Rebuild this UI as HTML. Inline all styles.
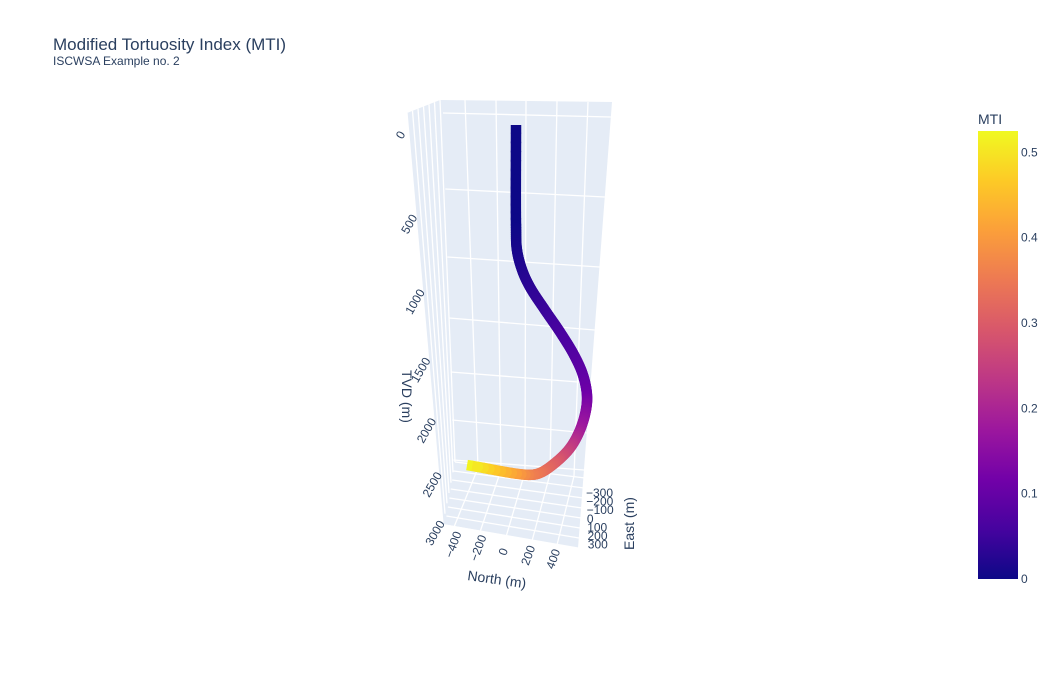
<!DOCTYPE html>
<html><head><meta charset="utf-8"><style>
body{margin:0;background:#fff;font-family:"Liberation Sans",sans-serif}
svg text{font-family:"Liberation Sans",sans-serif;fill:#2a3f5f}
</style></head><body>
<svg id="chart" width="1057" height="669" viewBox="0 0 1057 669" xmlns="http://www.w3.org/2000/svg">
<rect width="1057" height="669" fill="#fff"/>
<text x="53" y="50" font-size="17">Modified Tortuosity Index (MTI)</text>
<text x="53" y="65" font-size="12">ISCWSA Example no. 2</text>
<g id="scene">
<polygon points="407,113 440,100 612,102 578,548 443,524" fill="#e5ecf6"/>
<g id="grid" stroke="#fff" stroke-width="1.3" fill="none"></g>
</g>
<g id="track"></g>
<g id="labels" font-size="12"></g>
<text transform="translate(402,370) rotate(90)" font-size="14">TVD (m)</text>
<text transform="translate(467,580) rotate(8)" font-size="14">North (m)</text>
<text transform="translate(634,550) rotate(-90)" font-size="14">East (m)</text>
<defs><linearGradient id="cb" x1="0" y1="1" x2="0" y2="0">
<stop offset="0" stop-color="#0d0887"/><stop offset="0.111" stop-color="#46039f"/><stop offset="0.222" stop-color="#7201a8"/><stop offset="0.333" stop-color="#9c179e"/><stop offset="0.444" stop-color="#bd3786"/><stop offset="0.556" stop-color="#d8576b"/><stop offset="0.667" stop-color="#ed7953"/><stop offset="0.778" stop-color="#fb9f3a"/><stop offset="0.889" stop-color="#fdca26"/><stop offset="1" stop-color="#f0f921"/></linearGradient></defs>
<text x="978" y="124" font-size="14">MTI</text>
<rect x="978" y="131" width="40" height="448" fill="url(#cb)"/>
<g id="cbticks" font-size="12"></g>
</svg>
<script>
const tvd   = [0, 566, 723, 853, 968, 1128, 1287, 1461, 1619, 1782, 1909, 2084, 2248, 2389, 2485, 2505, 2505];
const north = [0, 0, 6, 39, 91, 193, 299, 403, 474, 512, 512, 478, 411, 301, 187, 100, -383];
const mti   = [0, 0, 0.01, 0.02, 0.03, 0.045, 0.06, 0.075, 0.09, 0.11, 0.14, 0.18, 0.24, 0.3, 0.34, 0.36, 0.525];
const tvdTicks = [0, 500, 1000, 1500, 2000, 2500, 3000];
const northTicks = [-400, -200, 0, 200, 400];
const eastTicks = [-300, -200, -100, 0, 100, 200, 300];
const cbTicks = [0, 0.1, 0.2, 0.3, 0.4, 0.5];
const cbMax = 0.525;

const NS='http://www.w3.org/2000/svg';
function mk(tag,attrs,parent){const e=document.createElementNS(NS,tag);for(const k in attrs)e.setAttribute(k,attrs[k]);parent.appendChild(e);return e;}
const A=0.19125,B=1.472e-4;
function sc(t){return 1/(1+B*t);}
function px(n,t){return 516+n*0.175*sc(t);}
function py(n,t){return 125+A*t/(1+B*t)+0.0203*(n-109)*(t>2495?1:0);}
function axisTvdY(t){return 137+A*t/(1+B*t);}
const stops=['#0d0887','#46039f','#7201a8','#9c179e','#bd3786','#d8576b','#ed7953','#fb9f3a','#fdca26','#f0f921'];
function hex(c){return [1,3,5].map(i=>parseInt(c.substr(i,2),16));}
function color(v){let f=Math.max(0,Math.min(1,v/cbMax))*(stops.length-1);let i=Math.min(Math.floor(f),stops.length-2);let u=f-i;const a=hex(stops[i]),b=hex(stops[i+1]);return 'rgb('+a.map((x,k)=>Math.round(x+(b[k]-x)*u)).join(',')+')';}

const g=document.getElementById('grid');
const hl=[[113,117],[189,197],[257,267],[318,330],[372,383],[420,433],[460,470]];
hl.forEach(h=>{const l=mk('line',{x1:443+(h[0]-113)*0.03,y1:h[0],x2:612-(h[1]-102)*0.076,y2:h[1]},g);});
const vt=[[465,100,478,468],[496,100,501,470],[526,101,525,472],[557,101,550,474],[588,102,574,476]];
vt.forEach(v=>{const l=mk('line',{x1:v[0],y1:v[1],x2:v[2],y2:v[3]},g);});
for(let i=0;i<7;i++){const f=i/6;
 const l2=mk('line',{x1:407+33*f,y1:113-13*f,x2:443+12*f,y2:524-62*f},g);}
for(let i=0;i<8;i++){const f=i/7;const l=mk('line',{x1:455-10*f,y1:462+63*f,x2:585-7*f,y2:478+70*f},g);}
[[478,468,454,527],[501,470,480,532],[525,472,506,537],[550,474,532,541],[574,476,557,545]].forEach(v=>{const l=mk('line',{x1:v[0],y1:v[1],x2:v[2],y2:v[3]},g);});

const tr=document.getElementById('track');
const P=tvd.map((t,i)=>[px(north[i],t),py(north[i],t),mti[i]]);
function ext(a,b){return [2*a[0]-b[0],2*a[1]-b[1],a[2]];}
const Q=[ext(P[0],P[1]),...P,ext(P[P.length-1],P[P.length-2])];
function dist(a,b){return Math.max(1e-3,Math.sqrt(Math.hypot(a[0]-b[0],a[1]-b[1])));}
const dense=[];
for(let i=1;i<Q.length-2;i++){const p0=Q[i-1],p1=Q[i],p2=Q[i+1],p3=Q[i+2];
 const t0=0,t1=t0+dist(p0,p1),t2=t1+dist(p1,p2),t3=t2+dist(p2,p3);
 for(let s=0;s<12;s++){const t=t1+(t2-t1)*s/12;const pt=[0,1].map(k=>{
  const A1=(t1-t)/(t1-t0)*p0[k]+(t-t0)/(t1-t0)*p1[k];
  const A2=(t2-t)/(t2-t1)*p1[k]+(t-t1)/(t2-t1)*p2[k];
  const A3=(t3-t)/(t3-t2)*p2[k]+(t-t2)/(t3-t2)*p3[k];
  const B1=(t2-t)/(t2-t0)*A1+(t-t0)/(t2-t0)*A2;
  const B2=(t3-t)/(t3-t1)*A2+(t-t1)/(t3-t1)*A3;
  return (t2-t)/(t2-t1)*B1+(t-t1)/(t2-t1)*B2;});
  dense.push([pt[0],pt[1],p1[2]+(p2[2]-p1[2])*s/12]);}}
dense.push(P[P.length-1]);
for(let i=0;i<dense.length-1;i++){const a=dense[i],b=dense[i+1];
 const l=mk('line',{x1:a[0],y1:a[1],x2:b[0],y2:b[1],stroke:color((a[2]+b[2])/2),'stroke-width':10.5,'stroke-linecap':(i===0||i===dense.length-2)?'butt':'round'},tr);
 }

const lb=document.getElementById('labels');
tvdTicks.forEach(t=>{const y=axisTvdY(t);const x=404+t*0.0115+(t>0&&t<3000?3:0);const e=mk('text',{transform:`translate(${x},${y}) rotate(-60)`,'text-anchor':'middle'},lb);e.textContent=t;});
northTicks.forEach(n=>{const x=504+n*0.125;const y=552+n*0.018;const e=mk('text',{transform:`translate(${x},${y}) rotate(-70)`,'text-anchor':'middle','dominant-baseline':'middle'},lb);e.textContent=n<0?'\u2212'+(-n):n;});
eastTicks.forEach((v,i)=>{const e=mk('text',{x:586+i*0.3,y:497+i*8.6,'font-size':12},lb);e.textContent=v<0?'\u2212'+(-v):v;});

const cb=document.getElementById('cbticks');
cbTicks.forEach(v=>{const y=579-v/cbMax*448;const e=mk('text',{x:1021,y:y+4},cb);e.textContent=v;});
</script>
</body></html>
